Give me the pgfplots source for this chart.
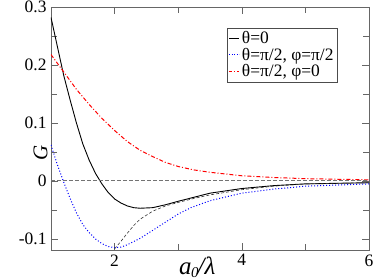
\documentclass[border=0pt]{standalone}
\usepackage{pgfplots}
\pgfplotsset{compat=1.18}
\usepackage{fontspec}
\setmainfont{Liberation Serif}
\begin{document}
\begin{tikzpicture}
\begin{axis}[
  name=ax,
  scale only axis,
  width=318bp, height=243bp,
  xmin=1, xmax=6, ymin=-0.119, ymax=0.3,
  xtick={2,4,6}, xticklabels={2,4,6},
  minor xtick={3,5},
  ytick={-0.1,0,0.1,0.2,0.3}, yticklabels={-0.1,0,0.1,0.2,0.3},
  minor ytick={-0.05,0.05,0.15,0.25},
  tick align=inside,
  major tick length=7bp, minor tick length=6bp,
  axis line style={black!60},
  every tick/.style={black!60},
  tick label style={font=\fontsize{17.5}{20}\selectfont},
  xticklabel style={yshift=-1bp},
  yticklabel style={xshift=-1bp},
  xlabel={\fontsize{25}{28}\selectfont\itshape a\kern-0.5pt\raisebox{-3bp}{\fontsize{15}{16}\selectfont 0}\kern-1pt/λ},
  ylabel={\fontsize{21}{24}\selectfont\itshape G},
  xlabel style={at={(rel axis cs:0.46,0)}, anchor=north, yshift=-3bp},
  ylabel style={at={(rel axis cs:0,0.56)}, anchor=south, xshift=-39bp},
  legend style={at={(0.9,0.915)}, anchor=north east,
    draw=black!70, font=\fontsize{17.5}{20}\selectfont, inner sep=1.5bp,
    row sep=-1bp},
  legend cell align=left,
  clip=true,
]
\addplot[black, line width=0.9bp,
  legend image code/.code={\draw[black,line width=0.9bp] (0bp,0bp) -- (10bp,0bp);}] coordinates {
(1,0.282)(1.1,0.232)(1.2,0.182)(1.3,0.14)(1.4,0.1)(1.5,0.064)(1.6,0.036)(1.7,0.013)
(1.8,-0.005)(1.9,-0.02)(2,-0.031)(2.1,-0.038)(2.2,-0.043)(2.3,-0.046)(2.4,-0.047)
(2.6,-0.046)(2.8,-0.041)(3,-0.035)(3.25,-0.028)(3.5,-0.021)(4,-0.013)(4.5,-0.008)
(5,-0.005)(5.5,-0.004)(6,-0.003)};
\addlegendentry{θ=0}
\addplot[blue, dash pattern=on 1bp off 2bp, line width=1bp,
  legend image code/.code={\color{blue}\draw[draw=blue, dash pattern=on 1bp off 1.5bp, line width=1.2bp] (0bp,0bp) -- (10bp,0bp);}] coordinates {
(1,0.062)(1.1,0.028)(1.2,-0.002)(1.3,-0.03)(1.4,-0.055)(1.5,-0.075)(1.6,-0.089)
(1.7,-0.1)(1.8,-0.108)(1.9,-0.113)(2,-0.115)(2.1,-0.114)(2.2,-0.11)(2.4,-0.099)
(2.6,-0.085)(2.8,-0.071)(3,-0.057)(3.2,-0.046)(3.5,-0.034)(4,-0.021)(4.5,-0.014)
(5,-0.009)(5.5,-0.007)(6,-0.005)};
\addlegendentry{θ=π/2, φ=π/2}
\addplot[red, dash pattern=on 4bp off 2bp on 1bp off 2bp, line width=1bp,
  legend image code/.code={\color{red}\draw[draw=red, dash pattern=on 3bp off 1.5bp on 1.5bp off 1.5bp, line width=1.4bp] (0bp,0bp) -- (10bp,0bp);}] coordinates {
(1,0.218)(1.2,0.188)(1.4,0.158)(1.6,0.132)(1.8,0.108)(2,0.087)(2.2,0.068)(2.4,0.053)
(2.6,0.042)(2.8,0.032)(3,0.025)(3.25,0.019)(3.5,0.015)(4,0.009)(4.5,0.006)(5,0.004)
(5.5,0.003)(6,0.002)};
\addlegendentry{θ=π/2, φ=0}
\addplot[black!80, dash pattern=on 3bp off 2bp, line width=0.6bp, forget plot] coordinates {
(2,-0.117)(2.1,-0.104)(2.2,-0.09)(2.3,-0.077)(2.4,-0.066)(2.6,-0.052)(2.8,-0.043)
(3,-0.037)(3.25,-0.03)(3.5,-0.024)(4,-0.015)(4.5,-0.009)(5,-0.005)(6,-0.003)};
\addplot[black!55, dash pattern=on 4bp off 2bp, line width=1bp, forget plot] coordinates {(1,0)(6,0)};
\coordinate (ll) at (rel axis cs:0,0);
\coordinate (ur) at (rel axis cs:1,1);
\end{axis}
\pgfresetboundingbox
\path ([shift={(-51bp,-29bp)}]ll) rectangle ([shift={(5bp,7bp)}]ur);
\end{tikzpicture}
\end{document}
